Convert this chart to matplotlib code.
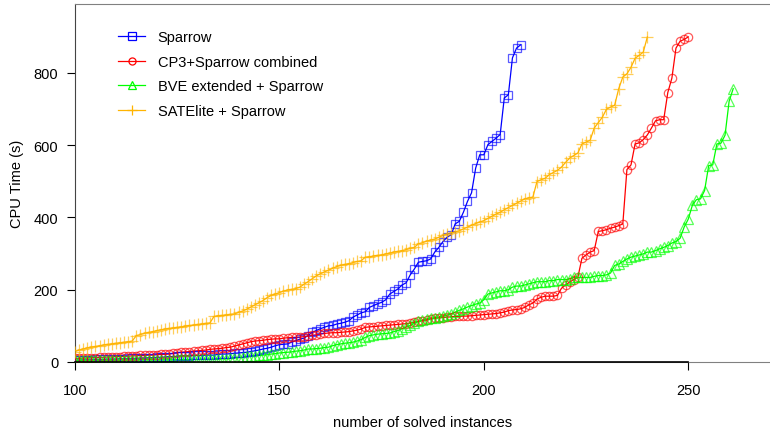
import matplotlib
matplotlib.use("Agg")
import matplotlib.pyplot as plt
from matplotlib.lines import Line2D
import numpy as np

plt.rcParams['font.family'] = ['Liberation Sans', 'DejaVu Sans']

# cactus plot: CPU time of the k-th solved instance, k counted from 100
first_solved = 100

sparrow = [
    5, 5, 6, 6, 6, 7, 7, 7, 8, 8,
    8, 9, 9, 10, 10, 10, 11, 11, 12, 12,
    13, 13, 14, 15, 15, 16, 17, 17, 17, 18,
    18, 18, 19, 19, 19, 21, 22, 22, 23, 24,
    25, 26, 27, 29, 31, 33, 36, 38, 41, 45,
    48, 49, 50, 55, 59, 63, 66, 73, 82, 87,
    92, 96, 100, 101, 105, 107, 110, 114, 124, 130,
    136, 139, 151, 156, 161, 165, 172, 188, 195, 202,
    213, 219, 241, 257, 276, 278, 280, 285, 304, 317,
    333, 345, 352, 382, 389, 414, 444, 468, 536, 573,
    573, 601, 610, 619, 629, 730, 739, 841, 868, 877,
]

cp3_sparrow = [
    10, 10, 11, 11, 12, 12, 13, 13, 14, 14,
    15, 15, 16, 16, 17, 17, 18, 18, 19, 19,
    20, 21, 21, 22, 24, 26, 27, 28, 29, 30,
    31, 32, 33, 35, 36, 37, 38, 40, 41, 44,
    47, 50, 53, 56, 58, 59, 60, 62, 63, 64,
    64, 66, 67, 68, 68, 69, 70, 72, 74, 75,
    77, 79, 80, 81, 81, 82, 83, 84, 86, 88,
    91, 96, 97, 98, 99, 100, 101, 102, 103, 104,
    105, 106, 108, 110, 112, 114, 116, 119, 121, 122,
    123, 124, 125, 126, 126, 127, 127, 128, 129, 130,
    131, 132, 133, 134, 136, 138, 142, 144, 145, 147,
    151, 158, 163, 174, 179, 182, 182, 182, 184, 204,
    213, 221, 228, 234, 287, 296, 304, 308, 361, 363,
    366, 370, 373, 377, 382, 532, 545, 603, 606, 615,
    628, 647, 667, 670, 670, 745, 785, 868, 887, 892,
    899,
]

bve_sparrow = [
    5, 5, 5, 5, 5, 5, 5, 5, 5, 5,
    5, 5, 6, 6, 6, 6, 6, 6, 6, 6,
    6, 6, 6, 6, 6, 7, 7, 7, 7, 7,
    7, 8, 8, 8, 8, 8, 9, 9, 10, 11,
    12, 13, 16, 17, 17, 18, 19, 20, 22, 23,
    25, 26, 27, 28, 30, 31, 33, 36, 36, 37,
    38, 40, 41, 45, 48, 50, 52, 53, 55, 58,
    62, 68, 73, 75, 77, 78, 79, 80, 84, 87,
    92, 97, 101, 107, 112, 116, 119, 121, 123, 124,
    127, 130, 133, 138, 143, 147, 152, 156, 160, 163,
    172, 188, 191, 194, 197, 197, 200, 207, 210, 210,
    213, 216, 219, 222, 222, 222, 225, 225, 228, 228,
    228, 230, 234, 234, 234, 234, 234, 237, 239, 239,
    241, 246, 267, 271, 278, 285, 290, 293, 296, 299,
    304, 304, 308, 313, 317, 322, 329, 333, 342, 373,
    395, 433, 449, 451, 474, 543, 545, 603, 605, 627,
    721, 756,
]

satelite_sparrow = [
    29, 33, 36, 39, 41, 43, 45, 47, 49, 50,
    52, 53, 55, 56, 58, 73, 76, 79, 82, 84,
    87, 89, 91, 93, 94, 96, 97, 99, 101, 102,
    104, 105, 107, 108, 126, 128, 129, 130, 132, 133,
    137, 141, 146, 152, 158, 164, 170, 178, 184, 188,
    192, 196, 199, 201, 203, 207, 215, 222, 230, 238,
    244, 249, 254, 259, 264, 267, 270, 272, 275, 278,
    280, 290, 291, 293, 295, 296, 299, 301, 304, 306,
    308, 311, 314, 317, 327, 330, 334, 337, 340, 345,
    350, 354, 357, 360, 363, 368, 373, 378, 383, 387,
    391, 397, 403, 409, 414, 421, 427, 433, 439, 445,
    451, 454, 456, 499, 504, 508, 518, 524, 530, 539,
    552, 564, 571, 578, 603, 608, 613, 647, 662, 677,
    699, 705, 710, 756, 788, 797, 815, 840, 848, 857,
    899,
]

series = [
    ("Sparrow", sparrow, "#0000ff", "s", 6.0),
    ("CP3+Sparrow combined", cp3_sparrow, "#ff0000", "o", 6.0),
    ("BVE extended + Sparrow", bve_sparrow, "#00ff00", "^", 6.5),
    ("SATElite + Sparrow", satelite_sparrow, "#ffb400", "+", 8.0),
]

fs = 10.5

fig = plt.figure(figsize=(7.7, 4.31), dpi=100)
ax = fig.add_axes([75 / 770, 68 / 431, 1 - 75 / 770, (363 - 5) / 431])

handles = []
for label, times, color, marker, ms in series:
    solved = np.arange(first_solved, first_solved + len(times))
    ax.plot(solved, times, color=color, lw=0.9, zorder=2)
    ax.plot(solved, times, ls="none", marker=marker, ms=ms, mfc="none",
            mec=color, mew=0.9, alpha=0.65, zorder=3)
    handles.append(Line2D([], [], color=color, lw=0.9, marker=marker,
                          ms=ms * 0.85, mfc="none", mec=color, mew=0.9,
                          label=label))

ax.set_xlim(100, 270)
ax.set_ylim(0, 990)
ax.set_xticks([100, 150, 200, 250])
ax.set_yticks([0, 200, 400, 600, 800])
ax.tick_params(axis="both", direction="out", length=6, width=0.8,
               labelsize=fs, colors="black")
ax.tick_params(axis="x", pad=9)
ax.tick_params(axis="y", pad=6)

# R-like frame: grey box, dark axis lines between the outer ticks
ax.spines["right"].set_visible(False)
ax.spines["top"].set_color("#808080")
ax.spines["left"].set_color("#444444")
ax.spines["bottom"].set_color("#808080")
ax.plot([100, 250], [0, 0], color="black", lw=1.2, clip_on=False, zorder=4)

ax.set_xlabel("number of solved instances", fontsize=fs, labelpad=13)
ax.set_ylabel("CPU Time (s)", fontsize=fs, labelpad=7)

ax.legend(handles=handles, loc="upper left", bbox_to_anchor=(0.054, 0.943),
          frameon=False, fontsize=fs, handlelength=1.85, handletextpad=0.85,
          labelspacing=0.72, borderaxespad=0)

fig.savefig("out.png", dpi=100)
